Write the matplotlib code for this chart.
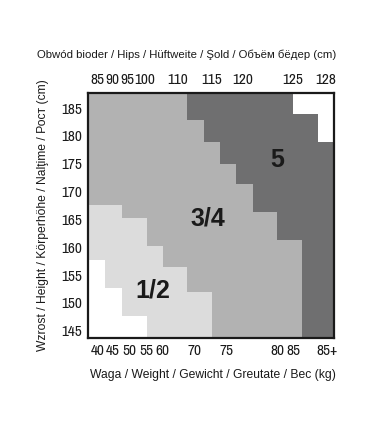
import matplotlib
matplotlib.use("Agg")
import matplotlib.pyplot as plt

plt.rcParams['font.family'] = ['Liberation Sans', 'DejaVu Sans']

# ---- data -------------------------------------------------------------
# x: position across the chart (chart width units 0..246), y: height in cm
x_min, x_max = 0, 246
y_min, y_max = 143.7, 187.7

height_ticks = [145, 150, 155, 160, 165, 170, 175, 180, 185]

weight_pos = [10, 25, 41, 58, 74, 107, 139, 189, 205, 239]
weight_labels = ["40", "45", "50", "55", "60", "70", "75", "80", "85", "85+"]

hips_pos = [9, 24, 39, 57, 90, 124, 155, 205, 238]
hips_labels = ["85", "90", "95", "100", "110", "115", "120", "125", "128"]

# size 5 zone: bands (upper cm, lower cm) and x where the zone begins
size5_top = [187.7, 182.8, 178.9, 175.0, 171.3, 166.3, 161.3]
size5_bottom = [182.8, 178.9, 175.0, 171.3, 166.3, 161.3, 143.7]
size5_start = [99, 115.5, 132, 147.5, 165, 189, 214]

# out-of-range zone top right
outTR_top = [187.7, 183.9]
outTR_bottom = [183.9, 178.9]
outTR_start = [205, 230]

# size 1/2 zone: bands and x where the zone ends
size12_top = [167.6, 165.3, 160.2, 156.4, 151.9]
size12_bottom = [165.3, 160.2, 156.4, 151.9, 143.7]
size12_end = [34, 59, 75, 99, 124]

# out-of-range zone bottom left
outBL_top = [157.7, 152.7, 147.7]
outBL_bottom = [152.7, 147.7, 143.7]
outBL_end = [17, 34, 59]

c_34 = "#b2b2b2"
c_5 = "#6f6f70"
c_12 = "#dcdcdc"
c_out = "#ffffff"

# ---- figure -----------------------------------------------------------
W, H = 381, 434
fig = plt.figure(figsize=(W / 100, H / 100), dpi=100)
ax = fig.add_axes([88 / W, 1 - 338 / H, (334 - 88) / W, (338 - 93) / H])
ax.set_facecolor(c_34)
ax.set_xlim(x_min, x_max)
ax.set_ylim(y_min, y_max)

def bands(top, bottom, left, right, color):
    heights = [t - b for t, b in zip(top, bottom)]
    widths = [r - l for l, r in zip(left, right)]
    ax.barh(bottom, widths, height=heights, left=left, align='edge',
            color=color, edgecolor='none', linewidth=0)

bands(size5_top, size5_bottom, size5_start, [x_max] * len(size5_start), c_5)
bands(outTR_top, outTR_bottom, outTR_start, [x_max] * len(outTR_start), c_out)
bands(size12_top, size12_bottom, [x_min] * len(size12_end), size12_end, c_12)
bands(outBL_top, outBL_bottom, [x_min] * len(outBL_end), outBL_end, c_out)

for s in ax.spines.values():
    s.set_linewidth(1.6)
    s.set_color("#1a1a1a")

tick_font = dict(family=['Archivo Narrow', 'Liberation Sans', 'DejaVu Sans'], size=11)

ax.set_yticks(height_ticks)
ax.set_yticklabels([str(v) for v in height_ticks], **tick_font)
ax.set_xticks(weight_pos)
ax.set_xticklabels(weight_labels, **tick_font)
ax.tick_params(axis='both', length=0, colors="#1a1a1a")
ax.tick_params(axis='x', pad=4)
ax.tick_params(axis='y', pad=4)

top = ax.secondary_xaxis('top')
top.set_xticks(hips_pos)
top.set_xticklabels(hips_labels, **tick_font)
top.tick_params(length=0, pad=4, colors="#1a1a1a")
top.spines['top'].set_visible(False)

# zone labels
zfont = dict(fontsize=18, fontweight='bold', color="#1a1a1a", ha='center', va='center')
ax.text(189, 175.6, "5", **zfont)
ax.text(120, 165.1, "3/4", **zfont)
ax.text(65, 152.2, "1/2", **zfont)

tcol = "#1a1a1a"
fig.text(187 / W, 1 - 55 / H, "Obwód bioder / Hips / Hüftweite / Şold / Объём бёдер (cm)",
         ha='center', va='center', fontsize=8.2, color=tcol)
fig.text(213 / W, 1 - 375 / H, "Waga / Weight / Gewicht / Greutate / Вес (kg)",
         ha='center', va='center', fontsize=8.7, color=tcol)
fig.text(43 / W, 1 - 215 / H, "Wzrost / Height / Körperhöhe / Nalţime / Рост (cm)",
         ha='center', va='center', rotation=90, fontsize=8.7, color=tcol)

fig.savefig("out.png", dpi=100)
